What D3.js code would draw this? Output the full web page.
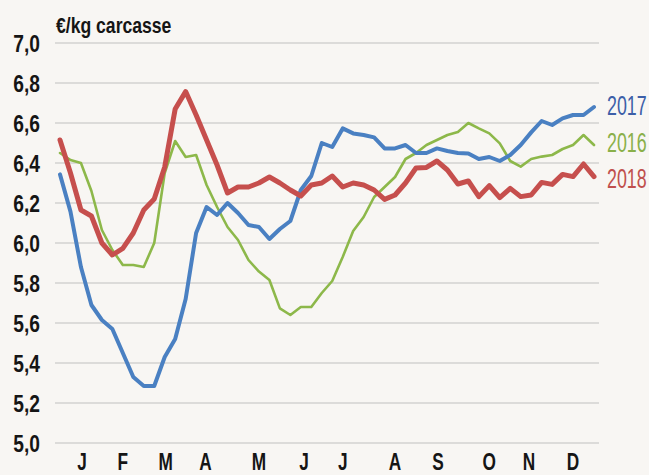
<!DOCTYPE html>
<html><head><meta charset="utf-8">
<script src="https://cdn.jsdelivr.net/npm/d3@7"></script>
<style>
html,body{margin:0;padding:0;background:#f8f6f3;}
svg{display:block;}
text{font-family:"Liberation Sans",Arial,sans-serif;}
</style></head>
<body>
<svg id="chart" width="649" height="475"></svg>
<script>
const unitLabel = "€/kg carcasse";
const yTicks = [5.0, 5.2, 5.4, 5.6, 5.8, 6.0, 6.2, 6.4, 6.6, 6.8, 7.0];
const monthLabels = ["J","F","M","A","M","J","J","A","S","O","N","D"];
const monthPos = [2.1, 6.0, 10.1, 13.9, 19.0, 23.3, 27.0, 32.0, 36.1, 41.0, 44.8, 49.0];
const seriesNames = ["2016", "2017", "2018"];
const s2016 = [6.45,6.415,6.40,6.26,6.065,5.965,5.89,5.89,5.88,6.00,6.35,6.51,6.43,6.44,6.29,6.18,6.08,6.015,5.915,5.857,5.815,5.673,5.64,5.68,5.68,5.75,5.81,5.93,6.06,6.13,6.23,6.28,6.33,6.42,6.45,6.49,6.515,6.54,6.555,6.60,6.573,6.548,6.498,6.41,6.382,6.42,6.432,6.44,6.47,6.49,6.54,6.49];
const s2017 = [6.343,6.157,5.88,5.69,5.615,5.57,5.45,5.33,5.285,5.285,5.43,5.52,5.72,6.05,6.18,6.14,6.20,6.15,6.09,6.08,6.02,6.07,6.11,6.265,6.335,6.50,6.48,6.573,6.548,6.54,6.528,6.473,6.473,6.49,6.45,6.45,6.473,6.46,6.45,6.448,6.42,6.43,6.41,6.44,6.49,6.553,6.61,6.59,6.623,6.64,6.64,6.68];
const s2018 = [6.515,6.35,6.165,6.135,6.00,5.94,5.973,6.05,6.165,6.22,6.38,6.67,6.757,6.64,6.515,6.39,6.25,6.28,6.28,6.30,6.33,6.30,6.265,6.235,6.29,6.30,6.335,6.28,6.30,6.29,6.265,6.218,6.24,6.30,6.375,6.378,6.41,6.365,6.295,6.31,6.232,6.287,6.227,6.273,6.232,6.24,6.303,6.293,6.343,6.332,6.395,6.332];
const lineColors = {"2016":"#8db84a","2017":"#4a80c2","2018":"#c64f4d"};
const textColors = {"2016":"#8ab04a","2017":"#3d5fa8","2018":"#c0504d"};
const lineWidths = {"2016":2.6,"2017":4,"2018":5};
const seriesData = {"2016":s2016,"2017":s2017,"2018":s2018};

const svg = d3.select("#chart");
const x = d3.scaleLinear().domain([0, 51]).range([60, 594]);
const y = d3.scaleLinear().domain([5.0, 7.0]).range([443, 43]);
const gridX0 = 55, gridX1 = 599;

// condensed text helper (horizontal squeeze)
function ctext(g, tx, ty, sx) {
  return g.append("text").attr("transform", `translate(${tx},${ty}) scale(${sx},1)`);
}

// gridlines
svg.append("g").selectAll("line").data(yTicks).join("line")
  .attr("x1", gridX0).attr("x2", gridX1)
  .attr("y1", d => y(d)).attr("y2", d => y(d))
  .attr("stroke", "#dcdbd9").attr("stroke-width", 2);

// y labels
const fmt = d => d.toFixed(1).replace(".", ",");
const yl = svg.append("g");
yTicks.forEach(d => {
  ctext(yl, 40, y(d) + 9, 0.8)
    .attr("text-anchor", "end")
    .attr("font-size", 24).attr("font-weight", "bold").attr("fill", "#151515")
    .text(fmt(d));
});

// unit label
ctext(svg, 56, 33, 0.8)
  .attr("font-size", 22).attr("font-weight", "bold").attr("fill", "#151515")
  .text(unitLabel);

// month labels
const ml = svg.append("g");
monthLabels.forEach((m, i) => {
  ctext(ml, x(monthPos[i]), 470, 0.75)
    .attr("text-anchor", "middle")
    .attr("font-size", 23).attr("font-weight", "bold").attr("fill", "#151515")
    .text(m);
});

// lines
const line = d3.line().x((d, i) => x(i)).y(d => y(d)).curve(d3.curveLinear);
["2016", "2017", "2018"].forEach(name => {
  svg.append("path").datum(seriesData[name])
    .attr("fill", "none")
    .attr("stroke", lineColors[name])
    .attr("stroke-width", lineWidths[name])
    .attr("stroke-linejoin", "round")
    .attr("stroke-linecap", "round")
    .attr("d", line);
});

// legend labels at series ends
const legendDy = {"2016": 7, "2017": 8, "2018": 11};
seriesNames.forEach(name => {
  const arr = seriesData[name];
  ctext(svg, 607, y(arr[arr.length - 1]) + legendDy[name], 0.66)
    .attr("font-size", 27).attr("fill", textColors[name])
    .text(name);
});
</script>
</body></html>
